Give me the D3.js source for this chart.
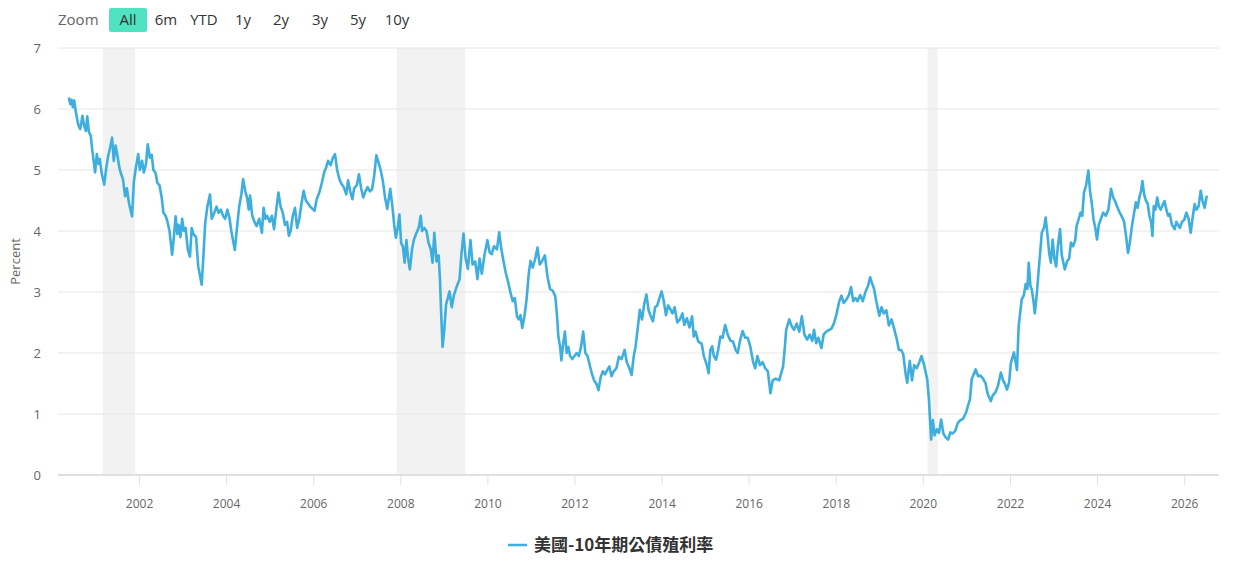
<!DOCTYPE html>
<meta charset="utf-8">
<head>
    <meta charset="UTF-8">
    <title>美國-10年期公債殖利率</title>
    <style>
      body { margin: 0; background: #fff; }
      text { font-family: "Open Sans", "Noto Sans", sans-serif; }
    </style>
</head>
<body>
<script src="https://d3js.org/d3.v7.min.js"></script>
<div id="chart"></div>
<script>

    // range selector buttons
    const zoomButtons = ["All", "6m", "YTD", "1y", "2y", "3y", "5y", "10y"]
    const yTicks = [0, 1, 2, 3, 4, 5, 6, 7]
    const seriesName = "美國-10年期公債殖利率"

    // recession periods (decimal years)
    const recessions = [[2001.17, 2001.91], [2007.92, 2009.49], [2020.11, 2020.34]]

    // US 10y yield (decimal year, percent)
    const years = [
      2000.39,2000.42,2000.45,2000.48,2000.51,2000.55,2000.60,2000.65,2000.70,2000.74,2000.78,2000.81,2000.85,2000.89,2000.93,2000.99,
      2001.03,2001.07,2001.10,2001.14,2001.20,2001.25,2001.29,2001.34,2001.38,2001.42,2001.46,2001.50,2001.55,2001.59,2001.63,2001.68,2001.72,2001.77,2001.84,2001.88,2001.92,2001.98,
      2002.02,2002.07,2002.11,2002.16,2002.20,2002.25,2002.29,2002.33,2002.38,2002.42,2002.47,2002.52,2002.56,2002.61,2002.65,2002.70,2002.76,2002.80,2002.84,2002.88,2002.91,2002.95,2002.99,
      2003.03,2003.07,2003.12,2003.17,2003.21,2003.25,2003.31,2003.36,2003.44,2003.48,2003.52,2003.57,2003.63,2003.67,2003.73,2003.78,2003.83,2003.88,2003.93,2003.98,
      2004.03,2004.08,2004.12,2004.20,2004.25,2004.30,2004.35,2004.39,2004.44,2004.48,2004.52,2004.55,2004.60,2004.65,2004.70,2004.76,2004.82,2004.86,2004.90,2004.94,
      2005.00,2005.05,2005.10,2005.15,2005.20,2005.25,2005.30,2005.35,2005.40,2005.44,2005.48,2005.53,2005.58,2005.63,2005.68,2005.73,2005.78,2005.83,2005.88,2005.93,
      2006.03,2006.08,2006.14,2006.20,2006.25,2006.30,2006.34,2006.40,2006.45,2006.50,2006.55,2006.60,2006.65,2006.70,2006.76,2006.80,2006.85,2006.90,2006.94,
      2007.00,2007.05,2007.10,2007.15,2007.20,2007.25,2007.30,2007.35,2007.40,2007.45,2007.50,2007.55,2007.60,2007.65,2007.70,2007.74,2007.77,2007.82,2007.86,2007.90,2007.94,2007.98,
      2008.02,2008.06,2008.10,2008.14,2008.18,2008.22,2008.27,2008.31,2008.36,2008.42,2008.47,2008.50,2008.55,2008.60,2008.65,2008.70,2008.74,2008.78,2008.83,2008.88,2008.91,2008.94,2008.97,
      2009.01,2009.05,2009.09,2009.13,2009.18,2009.23,2009.30,2009.36,2009.40,2009.45,2009.50,2009.55,2009.61,2009.66,2009.72,2009.77,2009.82,2009.87,2009.93,
      2010.00,2010.05,2010.10,2010.15,2010.22,2010.27,2010.32,2010.37,2010.42,2010.48,2010.53,2010.58,2010.63,2010.68,2010.72,2010.76,2010.80,2010.85,2010.90,2010.95,2010.99,
      2011.04,2011.10,2011.15,2011.20,2011.25,2011.32,2011.38,2011.44,2011.50,2011.56,2011.60,2011.63,2011.67,2011.70,2011.74,2011.78,2011.82,2011.86,2011.90,2011.95,
      2012.00,2012.05,2012.10,2012.15,2012.20,2012.25,2012.30,2012.35,2012.40,2012.45,2012.50,2012.55,2012.60,2012.65,2012.70,2012.75,2012.80,2012.85,2012.90,2012.96,
      2013.02,2013.08,2013.15,2013.20,2013.26,2013.31,2013.36,2013.40,2013.45,2013.50,2013.55,2013.60,2013.65,2013.70,2013.75,2013.80,2013.85,2013.90,2013.95,
      2014.00,2014.05,2014.10,2014.15,2014.20,2014.25,2014.30,2014.36,2014.42,2014.48,2014.52,2014.58,2014.64,2014.70,2014.74,2014.78,2014.84,2014.92,2014.97,
      2015.04,2015.08,2015.12,2015.16,2015.20,2015.25,2015.30,2015.35,2015.40,2015.46,2015.52,2015.58,2015.64,2015.70,2015.75,2015.80,2015.86,2015.92,2015.98,
      2016.04,2016.10,2016.15,2016.20,2016.26,2016.32,2016.38,2016.44,2016.50,2016.55,2016.62,2016.70,2016.79,2016.83,2016.86,2016.93,2016.98,
      2017.04,2017.10,2017.16,2017.22,2017.28,2017.34,2017.40,2017.46,2017.50,2017.55,2017.60,2017.67,2017.72,2017.78,2017.85,2017.90,2017.96,
      2018.02,2018.08,2018.13,2018.18,2018.24,2018.30,2018.35,2018.40,2018.45,2018.50,2018.56,2018.62,2018.68,2018.74,2018.79,2018.83,2018.88,2018.93,
      2019.00,2019.05,2019.10,2019.16,2019.22,2019.28,2019.34,2019.40,2019.45,2019.50,2019.55,2019.60,2019.64,2019.70,2019.75,2019.80,2019.86,2019.92,2019.97,
      2020.03,2020.10,2020.14,2020.19,2020.23,2020.27,2020.32,2020.37,2020.42,2020.47,2020.52,2020.58,2020.63,2020.68,2020.74,2020.80,2020.86,2020.92,2020.99,
      2021.04,2021.08,2021.12,2021.21,2021.27,2021.32,2021.38,2021.44,2021.48,2021.51,2021.56,2021.60,2021.66,2021.72,2021.79,2021.84,2021.88,2021.93,2021.98,
      2022.02,2022.09,2022.13,2022.16,2022.20,2022.24,2022.27,2022.32,2022.36,2022.40,2022.43,2022.47,2022.50,2022.54,2022.57,2022.62,2022.66,2022.70,2022.73,2022.78,2022.82,2022.86,2022.90,2022.94,2022.98,
      2023.02,2023.06,2023.10,2023.15,2023.19,2023.26,2023.31,2023.36,2023.40,2023.45,2023.50,2023.53,2023.58,2023.62,2023.66,2023.70,2023.75,2023.80,2023.84,2023.88,2023.92,2023.96,
      2024.00,2024.04,2024.09,2024.14,2024.20,2024.26,2024.32,2024.37,2024.42,2024.46,2024.52,2024.56,2024.62,2024.67,2024.71,2024.75,2024.80,2024.85,2024.89,2024.93,2024.97,
      2025.01,2025.04,2025.08,2025.12,2025.16,2025.20,2025.24,2025.27,2025.30,2025.34,2025.38,2025.42,2025.46,2025.50,2025.55,2025.59,2025.63,2025.67,2025.72,2025.78,2025.82,2025.86,2025.90,2025.95,
      2026.00,2026.05,2026.10,2026.15,2026.20,2026.24,2026.28,2026.33,2026.38,2026.42,2026.47,2026.52
    ]
    const yields = [
      6.19,6.08,6.15,6.03,6.14,5.95,5.75,5.67,5.89,5.72,5.64,5.88,5.62,5.56,5.30,4.96,
      5.26,5.10,5.18,4.95,4.76,5.05,5.23,5.38,5.53,5.15,5.40,5.25,5.03,4.93,4.85,4.57,4.70,4.45,4.24,4.80,5.01,5.26,
      5.00,5.15,4.96,5.10,5.42,5.20,5.25,5.00,4.95,4.79,4.75,4.55,4.30,4.25,4.16,4.00,3.61,3.90,4.24,3.95,4.10,3.90,4.20,
      4.00,4.05,3.70,3.58,4.05,3.95,3.90,3.42,3.12,3.60,4.13,4.40,4.60,4.20,4.30,4.40,4.30,4.35,4.25,4.20,
      4.35,4.20,4.00,3.69,4.05,4.40,4.60,4.85,4.65,4.55,4.35,4.58,4.25,4.15,4.08,4.20,3.97,4.38,4.20,4.25,
      4.15,4.25,4.03,4.35,4.63,4.40,4.30,4.10,4.15,3.92,4.00,4.25,4.38,4.05,4.20,4.45,4.66,4.50,4.45,4.40,
      4.33,4.52,4.63,4.80,4.96,5.05,5.15,5.08,5.20,5.26,5.00,4.85,4.77,4.72,4.60,4.83,4.65,4.52,4.70,
      4.75,4.93,4.70,4.55,4.65,4.72,4.65,4.68,4.90,5.24,5.12,5.00,4.82,4.55,4.36,4.55,4.69,4.40,4.10,3.89,4.05,4.27,
      3.80,3.75,3.48,3.85,3.55,3.37,3.70,3.85,3.95,4.05,4.25,4.00,4.05,4.00,3.80,3.70,3.48,3.97,3.50,3.60,3.20,2.60,2.10,
      2.40,2.80,2.90,3.01,2.75,2.95,3.10,3.21,3.60,3.96,3.55,3.38,3.85,3.45,3.50,3.21,3.55,3.30,3.60,
      3.85,3.65,3.62,3.75,3.70,3.98,3.70,3.50,3.32,3.15,2.99,2.85,2.90,2.60,2.55,2.62,2.41,2.60,2.88,3.30,3.51,
      3.40,3.55,3.73,3.45,3.50,3.60,3.25,3.05,3.02,2.93,2.60,2.27,2.10,1.88,2.15,2.35,2.00,2.10,1.95,1.90,
      1.95,2.00,1.95,2.10,2.35,2.00,1.95,1.80,1.66,1.55,1.50,1.39,1.60,1.70,1.65,1.72,1.78,1.62,1.70,1.75,
      1.94,1.90,2.05,1.85,1.75,1.64,1.95,2.10,2.40,2.71,2.55,2.80,2.96,2.70,2.60,2.52,2.75,2.78,2.90,
      3.01,2.85,2.62,2.78,2.72,2.65,2.75,2.50,2.55,2.65,2.46,2.57,2.42,2.60,2.27,2.35,2.19,2.15,1.95,
      1.80,1.67,2.05,2.11,1.95,1.89,2.05,2.27,2.25,2.46,2.30,2.20,2.19,2.05,2.00,2.20,2.36,2.25,2.25,
      2.10,1.86,1.75,1.95,1.80,1.85,1.75,1.70,1.34,1.55,1.58,1.55,1.78,2.10,2.38,2.55,2.45,
      2.38,2.48,2.35,2.60,2.30,2.22,2.30,2.20,2.38,2.16,2.25,2.08,2.30,2.35,2.38,2.40,2.49,
      2.65,2.85,2.94,2.82,2.87,2.95,3.08,2.85,2.90,2.85,2.95,2.85,3.00,3.10,3.24,3.15,3.05,2.85,
      2.61,2.75,2.65,2.70,2.45,2.55,2.40,2.23,2.05,2.05,1.98,1.68,1.51,1.87,1.55,1.80,1.75,1.85,1.95,
      1.80,1.57,1.24,0.58,0.90,0.65,0.75,0.69,0.91,0.68,0.62,0.58,0.70,0.68,0.72,0.85,0.90,0.92,1.02,
      1.15,1.24,1.57,1.73,1.62,1.63,1.58,1.50,1.35,1.29,1.21,1.30,1.35,1.45,1.68,1.55,1.50,1.40,1.52,
      1.84,2.01,1.85,1.72,2.45,2.70,2.88,2.95,3.13,3.05,3.48,3.10,3.04,2.85,2.65,3.00,3.37,3.70,3.97,4.05,4.22,3.95,3.64,3.48,3.86,
      3.55,3.42,3.75,4.03,3.60,3.37,3.50,3.55,3.81,3.75,3.85,4.08,4.20,4.30,4.25,4.63,4.75,4.99,4.65,4.45,4.19,4.05,
      3.86,4.10,4.20,4.30,4.25,4.35,4.69,4.55,4.48,4.40,4.30,4.25,4.15,3.89,3.64,3.80,4.08,4.30,4.47,4.38,4.55,
      4.66,4.82,4.60,4.50,4.45,4.25,4.15,3.92,4.41,4.35,4.55,4.40,4.35,4.42,4.49,4.35,4.25,4.28,4.10,4.03,4.15,4.10,4.05,4.15,
      4.18,4.30,4.20,3.97,4.25,4.44,4.35,4.40,4.66,4.50,4.38,4.58
    ]

    const W = 1241, H = 562
    const margin = {top: 48, right: 22, bottom: 87, left: 58}
    const width = W - margin.left - margin.right,
          height = H - margin.top - margin.bottom

    // decimal year -> Date
    function toDate(y) {
      const yr = Math.floor(y)
      const a = new Date(yr, 0, 1), b = new Date(yr + 1, 0, 1)
      return new Date(a.getTime() + (y - yr) * (b - a))
    }
    const data = years.map((y, i) => ({date: toDate(y), value: yields[i]}))

    const svg = d3.select("#chart")
      .append("svg")
        .attr("width", W)
        .attr("height", H)

    const g = svg.append("g")
        .attr("transform", `translate(${margin.left},${margin.top})`)

    const x = d3.scaleTime()
      .domain([toDate(2000.14), toDate(2026.80)])
      .range([0, width])

    const y = d3.scaleLinear()
      .domain([0, 7])
      .range([height, 0])

    // recession bands
    g.selectAll(".rec")
      .data(recessions)
      .join("rect")
        .attr("x", d => x(toDate(d[0])))
        .attr("y", 0)
        .attr("width", d => x(toDate(d[1])) - x(toDate(d[0])))
        .attr("height", height)
        .style("fill", "#f2f2f2")

    // grid lines
    g.selectAll(".grid")
      .data(yTicks.filter(d => d > 0))
      .join("line")
        .attr("x1", 0).attr("x2", width)
        .attr("y1", d => y(d)).attr("y2", d => y(d))
        .style("stroke", "#e6e6e6")
        .style("stroke-width", 1)

    // y axis labels
    const yAxis = g.append("g")
      .call(d3.axisLeft(y).tickValues(yTicks).tickFormat(d3.format("d")).tickSize(0).tickPadding(17))
    yAxis.select(".domain").remove()
    yAxis.selectAll("text")
      .style("font-size", "13px")
      .style("fill", "#666")
      .style("font-family", "Open Sans, sans-serif")

    svg.append("text")
      .attr("transform", `translate(20,${margin.top + height / 2}) rotate(-90)`)
      .attr("text-anchor", "middle")
      .style("font-size", "13px")
      .style("fill", "#666")
      .text("Percent")

    // x axis
    const xAxis = g.append("g")
      .attr("transform", `translate(0,${height})`)
      .call(d3.axisBottom(x).ticks(d3.timeYear.every(2)).tickFormat(d3.timeFormat("%Y")).tickSize(10).tickPadding(14))
    xAxis.select(".domain")
      .attr("d", `M0,0H${width}`)
      .style("stroke", "#e0e0e0")
      .style("stroke-width", 2)
    xAxis.selectAll(".tick line").style("stroke", "#e0e0e0")
    xAxis.selectAll("text")
      .style("font-size", "12px")
      .style("fill", "#666")
      .style("font-family", "Open Sans, sans-serif")

    // the line
    const line = d3.line()
      .x(d => x(d.date))
      .y(d => y(d.value))

    g.append("path")
      .datum(data)
      .attr("d", line)
      .style("fill", "none")
      .style("stroke", "#3daede")
      .style("stroke-width", 2.6)
      .style("stroke-linejoin", "round")

    // range selector
    svg.append("text")
      .attr("x", 58).attr("y", 25)
      .style("font-size", "15px")
      .style("fill", "#666")
      .text("Zoom")

    const btnX = [128, 166, 204, 243, 281, 320, 358, 397]
    svg.append("rect")
      .attr("x", 109).attr("y", 8)
      .attr("width", 38).attr("height", 24)
      .attr("rx", 2)
      .style("fill", "#4fe3c1")
    svg.selectAll(".btn")
      .data(zoomButtons)
      .join("text")
        .attr("x", (d, i) => btnX[i])
        .attr("y", 25)
        .attr("text-anchor", "middle")
        .style("font-size", "15px")
        .style("fill", "#333")
        .text(d => d)

    // legend
    svg.append("line")
      .attr("x1", 508).attr("x2", 527)
      .attr("y1", 545).attr("y2", 545)
      .style("stroke", "#3daede")
      .style("stroke-width", 2.5)
    svg.append("text")
      .attr("x", 534).attr("y", 551)
      .style("font-size", "17px")
      .style("font-weight", "bold")
      .style("font-family", "'Noto Sans CJK TC', 'Noto Sans CJK SC', sans-serif")
      .style("fill", "#333")
      .text(seriesName)
</script>
</body>
